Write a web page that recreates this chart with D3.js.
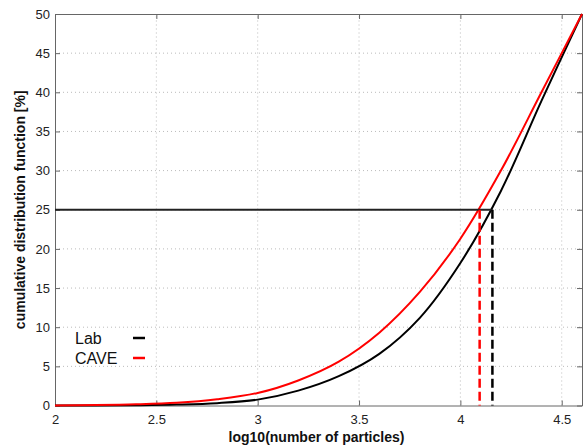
<!doctype HTML>
<meta charset="utf-8">
<title>CDF of particle numbers</title>

<style>
body {
  margin: 0px;
  background: #fff;
}
svg {
  font-family: "Liberation Sans", Arial, sans-serif;
}
.grid line {
  stroke: #bbb;
  stroke-width: 1;
  stroke-dasharray: 1,3;
}
.tick text {
  font-size: 13px;
  fill: #222;
}
.label {
  font-size: 14px;
  font-weight: bold;
  fill: #111;
}
.legend text {
  font-size: 16px;
  fill: #111;
}
</style>

<script src="https://d3js.org/d3.v7.min.js"></script>

<body>
<script>
var width = 585, height = 448;
var margin = {left: 55, top: 14, right: 3, bottom: 42.5};

// log10(number of particles)
var lgN  = [2.0, 2.2, 2.4, 2.6, 2.8, 3.0, 3.2, 3.4, 3.6, 3.8, 4.0, 4.2, 4.4, 4.6];
// cumulative distribution function [%]
var lab  = [0.0, 0.0, 0.04, 0.12, 0.3, 0.75, 1.9, 3.75, 6.6, 11.2, 18.2, 27.4, 38.9, 50.0];
var cave = [0.0, 0.05, 0.15, 0.35, 0.8, 1.6, 3.2, 5.6, 9.3, 14.5, 21.3, 30.0, 40.0, 50.0];

var level = 25;                 // the 25 % level
var crossX = [4.158, 4.095];    // where Lab and CAVE reach it
var seriesNames = ["Lab", "CAVE"];
var seriesColors = ["#000", "#f00"];

var xTicks = [2, 2.5, 3, 3.5, 4, 4.5];
var yTicks = [0, 5, 10, 15, 20, 25, 30, 35, 40, 45, 50];

var svg = d3.select("body").append("svg")
    .attr("width", width)
    .attr("height", height);

var x = d3.scaleLinear().domain([2, 4.6]).range([margin.left, width - margin.right]);
var y = d3.scaleLinear().domain([0, 50]).range([height - margin.bottom, margin.top]);

// grid
var grid = svg.append("g").attr("class", "grid");
grid.selectAll("line.gx")
    .data(xTicks.slice(1))
  .enter().append("line")
    .attr("x1", d => x(d)).attr("x2", d => x(d))
    .attr("y1", y(0)).attr("y2", y(50));
grid.selectAll("line.gy")
    .data(yTicks.slice(1, -1))
  .enter().append("line")
    .attr("y1", d => y(d)).attr("y2", d => y(d))
    .attr("x1", x(2)).attr("x2", x(4.6));

// axes (ticks inside, box all round)
var axisColor = "#666";
function styleAxis(g) {
  g.select(".domain").attr("stroke", axisColor);
  g.selectAll(".tick line").attr("stroke", axisColor);
}
svg.append("g")
    .attr("transform", "translate(0," + y(0) + ")")
    .call(d3.axisBottom(x).tickValues(xTicks).tickSizeInner(-5).tickSizeOuter(0).tickPadding(9).tickFormat(d3.format("")))
    .call(styleAxis);
svg.append("g")
    .attr("transform", "translate(0," + y(50) + ")")
    .call(d3.axisTop(x).tickValues(xTicks).tickSizeInner(-5).tickSizeOuter(0).tickFormat(""))
    .call(styleAxis);
svg.append("g")
    .attr("transform", "translate(" + x(2) + ",0)")
    .call(d3.axisLeft(y).tickValues(yTicks).tickSizeInner(-5).tickSizeOuter(0).tickPadding(5))
    .call(styleAxis);
svg.append("g")
    .attr("transform", "translate(" + x(4.6) + ",0)")
    .call(d3.axisRight(y).tickValues(yTicks).tickSizeInner(-5).tickSizeOuter(0).tickFormat(""))
    .call(styleAxis);

// curves
var line = d3.line()
    .x(d => x(d[0]))
    .y(d => y(d[1]))
    .curve(d3.curveCatmullRom.alpha(0.5));

var layer = svg.append("g");
[lab, cave].forEach(function(vals, i) {
  layer.append("path")
      .datum(lgN.map((v, j) => [v, vals[j]]))
      .attr("fill", "none")
      .attr("stroke", seriesColors[i])
      .attr("stroke-width", 2)
      .attr("d", line);
});

// 25% level and the two dashed drops
layer.append("line")
    .attr("x1", x(2)).attr("x2", x(crossX[0]))
    .attr("y1", y(level)).attr("y2", y(level))
    .attr("stroke", "#222")
    .attr("stroke-width", 2);
layer.selectAll("line.drop")
    .data(crossX)
  .enter().append("line")
    .attr("class", "drop")
    .attr("x1", d => x(d)).attr("x2", d => x(d))
    .attr("y1", y(level)).attr("y2", y(0))
    .attr("stroke", (d, i) => seriesColors[i])
    .attr("stroke-width", 2.5)
    .attr("stroke-dasharray", "9,4");

// labels
svg.append("text")
    .attr("class", "label")
    .attr("text-anchor", "middle")
    .attr("x", (x(2) + x(4.6)) / 2 - 2)
    .attr("y", 442)
    .text("log10(number of particles)");
svg.append("text")
    .attr("class", "label")
    .attr("text-anchor", "middle")
    .attr("transform", "translate(25," + y(25) + ") rotate(-90)")
    .text("cumulative distribution function [%]");

// legend
var legend = svg.append("g").attr("class", "legend");
seriesNames.forEach(function(name, i) {
  var ly = 338 + i * 20;
  legend.append("text")
      .attr("x", 75)
      .attr("y", ly + 6)
      .text(name);
  legend.append("line")
      .attr("x1", 133).attr("x2", 145)
      .attr("y1", ly).attr("y2", ly)
      .attr("stroke", seriesColors[i])
      .attr("stroke-width", 2.5);
});
</script>
